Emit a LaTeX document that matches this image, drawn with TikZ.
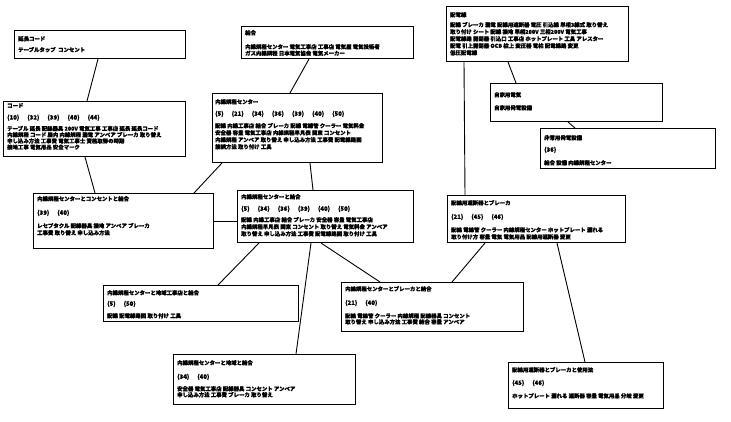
\documentclass[tikz,border=0pt]{standalone}
\usepackage{fontspec}
\newfontfamily\jp[FakeBold=1.2]{Noto Sans CJK JP}
\begin{document}
\begin{tikzpicture}[x=1pt,y=-1pt,
  box/.style={draw, line width=1pt, inner sep=0pt, anchor=north west},
  txt/.style={anchor=north west, align=left, inner sep=0pt, font=\jp\bfseries\fontsize{5.4}{7}\selectfont},
  lnk/.style={line width=0.9pt}]
\newcommand\nums[1]{{\fontsize{6}{7}\selectfont #1}}
\newcommand\gp{\hspace{8pt}}
\useasboundingbox (0,0) rectangle (731,421);
\fill[white] (0,0) rectangle (731,421);
% boxes
\node[box, minimum width=171pt, minimum height=28pt] (b1) at (14,30) {};
\node[box, minimum width=182pt, minimum height=55pt] (b2) at (3,101) {};
\node[box, minimum width=172pt, minimum height=32pt] (b3) at (241,26) {};
\node[box, minimum width=170pt, minimum height=69pt] (b4) at (212,93) {};
\node[box, minimum width=182pt, minimum height=55pt] (b5) at (446,6) {};
\node[box, minimum width=172pt, minimum height=38pt] (b6) at (490,83) {};
\node[box, minimum width=175pt, minimum height=40pt] (b7) at (540,128) {};
\node[box, minimum width=178pt, minimum height=47pt] (b8) at (447,195) {};
\node[box, minimum width=180pt, minimum height=55pt] (b9) at (33,193) {};
\node[box, minimum width=176pt, minimum height=52pt] (b10) at (237,190) {};
\node[box, minimum width=195pt, minimum height=36pt] (b11) at (103,285) {};
\node[box, minimum width=182pt, minimum height=49pt] (b12) at (341,282) {};
\node[box, minimum width=182pt, minimum height=50pt] (b13) at (173,354) {};
\node[box, minimum width=155pt, minimum height=46pt] (b14) at (508,362) {};
% texts
\node[txt] (t1) at (18,36) {延長コード\\[4pt]テーブルタップ\ \ コンセント};
\node[txt] (t2) at (7,103) {コード\\[5pt]\nums{(10)\gp(32)\gp(39)\gp(40)\gp(44)}\\[4pt]
テーブル 延長 配線器具 200V 電気工事 工事店 延長 延長コード\\[-0.8pt]
内線規程 コード 屋内 内線規程 漏電 アンペア ブレーカ 取り替え\\[-0.8pt]
申し込み方法 工事費 電気工事士 資格取得の時期\\[-0.8pt]
接地工事 電気用品 安全マーク};
\node[txt] (t3) at (245,30) {結合\\[7pt]内線規程センター 電気工事店 工事店 電気屋 電気技術者\\[-0.5pt]
ガス内線規程 日本電気協会 電気メーカー};
\node[txt] (t4) at (215,99) {内線規程センター\\[5pt]\nums{(5)\gp(21)\gp(34)\gp(36)\gp(39)\gp(40)\gp(50)}\\[5pt]
配線 内線工事店 結合 ブレーカ 配線 電線管 クーラー 電気料金\\
安全器 容量 電気工事店 内線規程早見表 関東 コンセント\\
内線規程 アンペア 取り替え 申し込み方法 工事費 配電線路図\\
接続方法 取り付け 工具};
\node[txt] (t5) at (450,12) {配電線\\[3pt]
配線 ブレーカ 漏電 配線用遮断器 電圧 引込線 単相3線式 取り替え\\
取り付け シート 配線 接地 単相200V 三相200V 電気工事\\
配電線路 開閉器 引込口 工事店 ホットプレート 工具 アレスター\\
配電 引上開閉器 OCB 柱上 変圧器 電柱 配電線路 変更\\
低圧配電線};
\node[txt] (t6) at (494,92) {自家用電気\\[6pt]自家用発電設備};
\node[txt] (t7) at (544,135) {非常用発電設備\\[5pt]\nums{(36)}\\[6pt]結合\ 設備\ 内線規程センター};
\node[txt] (t8) at (451,200) {配線用遮断器とブレーカ\\[7pt]\nums{(21)\gp(45)\gp(46)}\\[6pt]
配線 電線管 クーラー 内線規程センター ホットプレート 漏れる\\
取り付け方 容量 電気 電気用品 配線用遮断器 変更};
\node[txt] (t9) at (37,196) {内線規程センターとコンセントと結合\\[7pt]\nums{(39)\gp(40)}\\[6pt]
レセプタクル 配線器具 接地 アンペア ブレーカ\\
工事費 取り替え 申し込み方法};
\node[txt] (t10) at (241,194) {内線規程センターと結合\\[5pt]\nums{(5)\gp(34)\gp(36)\gp(39)\gp(40)\gp(50)}\\[4pt]
配線 内線工事店 結合 ブレーカ 安全器 容量 電気工事店\\
内線規程早見表 関東 コンセント 取り替え 電気料金 アンペア\\
取り替え 申し込み方法 工事費 配電線路図 取り付け 工具};
\node[txt] (t11) at (107,290) {内線規程センターと地域工事店と結合\\[4pt]\nums{(5)\gp(50)}\\[5pt]
配線 配電線路図 取り付け 工具};
\node[txt] (t12) at (345,286) {内線規程センターとブレーカと結合\\[7pt]\nums{(21)\gp(40)}\\[6pt]
配線 電線管 クーラー 内線規程 配線器具 コンセント\\[-1pt]
取り替え 申し込み方法 工事費 結合 容量 アンペア};
\node[txt] (t13) at (177,360) {内線規程センターと地域と結合\\[7pt]\nums{(34)\gp(40)}\\[5pt]
安全器 電気工事店 配線器具 コンセント アンペア\\[-1pt]
申し込み方法 工事費 ブレーカ 取り替え};
\node[txt] (t14) at (512,367) {配線用遮断器とブレーカと使用法\\[6pt]\nums{(45)\gp(46)}\\[6pt]
ホットプレート 漏れる 遮断器 容量 電気用品 分岐 変更};
% connectors
\draw[lnk] ([xshift=84pt]b1.south west) -- ([xshift=84pt]b2.north west);
\draw[lnk] ([xshift=68pt]b3.south west) -- ([xshift=78pt]b4.north west);
\draw[lnk] ([xshift=62pt]b5.south west) -- ([xshift=26pt]b6.north west);
\draw[lnk] ([xshift=78pt]b6.south west) -- ([xshift=35pt]b7.north west);
\draw[lnk] ([xshift=18pt]b5.south west) -- ([xshift=18pt]b8.north west);
\draw[lnk] ([xshift=82pt]b2.south west) -- ([xshift=62pt]b9.north west);
\draw[lnk] ([xshift=10pt]b4.south west) -- ([xshift=-20pt]b9.north east);
\draw[lnk] (b9.east) -- (b9.east -| b10.west);
\draw[lnk] ([xshift=98pt]b4.south west) -- ([xshift=76pt]b10.north west);
\draw[lnk] ([xshift=22pt]b10.south west) -- ([xshift=115pt]b11.north west);
\draw[lnk] ([xshift=74pt]b10.south west) -- ([xshift=123pt]b13.north west);
\draw[lnk] ([xshift=84pt]b10.south west) -- ([xshift=39pt]b12.north west);
\draw[lnk] ([xshift=38pt]b8.south west) -- ([xshift=111pt]b12.north west);
\draw[lnk] ([xshift=110pt]b8.south west) -- ([xshift=77pt]b14.north west);
\end{tikzpicture}
\end{document}
